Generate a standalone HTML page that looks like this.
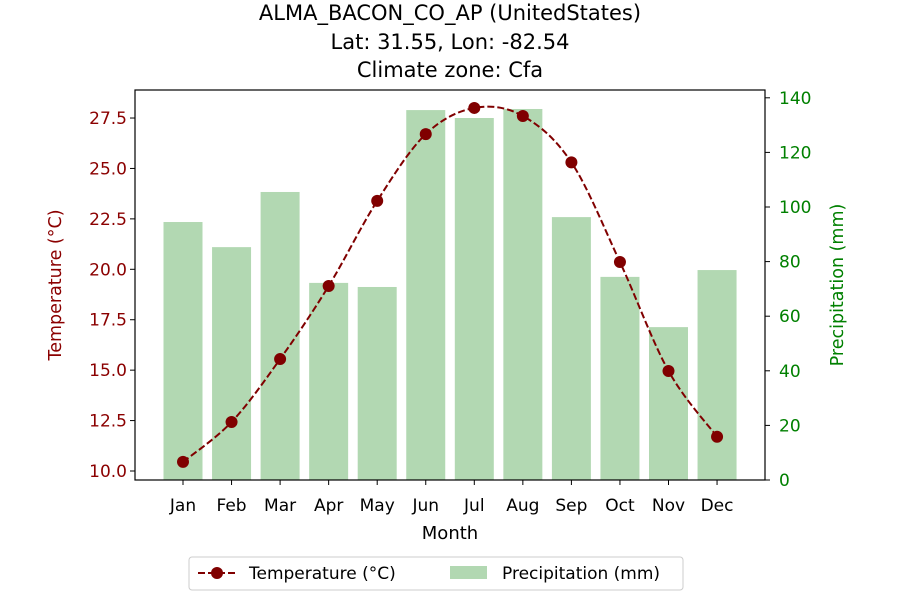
<!DOCTYPE html>
<html><head><meta charset="utf-8"><style>
body{margin:0;background:#fff;font-family:"Liberation Sans","DejaVu Sans",sans-serif;}
</style></head><body>
<svg width="900" height="600" xmlns="http://www.w3.org/2000/svg" font-family="DejaVu Sans, Liberation Sans, sans-serif">
<g text-anchor="middle" font-size="21" fill="#000">
<text x="450" y="20">ALMA_BACON_CO_AP (UnitedStates)</text>
<text x="450" y="49">Lat: 31.55, Lon: -82.54</text>
<text x="450" y="77">Climate zone: Cfa</text>
</g>
<g id="bars"></g>
<g id="line"></g>
<rect x="135" y="90" width="630" height="390" fill="none" stroke="#000" stroke-width="1.2"/>
<g id="axes"></g>
<text x="450" y="539" font-size="18" text-anchor="middle">Month</text>
<text transform="translate(61,285) rotate(-90)" font-size="17.5" fill="#8b0000" text-anchor="middle">Temperature (°C)</text>
<text transform="translate(843,285) rotate(-90)" font-size="17.5" fill="#008000" text-anchor="middle">Precipitation (mm)</text>
<g>
<rect x="189" y="557" width="494" height="33" rx="3" fill="#fff" stroke="#ccc"/>
<g>
<line x1="198" y1="573" x2="236" y2="573" stroke="#800000" stroke-width="2" stroke-dasharray="7,3"/>
<circle cx="217" cy="573" r="6" fill="#800000"/>
<text x="249" y="579" font-size="17">Temperature (°C)</text></g>
<g>
<rect x="450" y="566" width="37" height="13" fill="#b2d8b2"/>
<text x="502" y="579" font-size="17">Precipitation (mm)</text></g>
</g>
</svg>
<script>
const months=["Jan","Feb","Mar","Apr","May","Jun","Jul","Aug","Sep","Oct","Nov","Dec"];
const temps=[10.45,12.43,15.55,19.17,23.39,26.7,28.0,27.6,25.3,20.36,14.96,11.7];
const precip=[94.5,85.3,105.5,72.2,70.7,135.5,132.6,135.9,96.3,74.4,56,76.9];
const tTicks=[10.0,12.5,15.0,17.5,20.0,22.5,25.0,27.5];
const pTicks=[0,20,40,60,80,100,120,140];
const NS="http://www.w3.org/2000/svg";
const xS=i=>183+i*48.55;
const yT=t=>471-(t-10)*20.17;
const yP=p=>480-p*2.73;
const mk=(tag,a,parent)=>{const e=document.createElementNS(NS,tag);for(const k in a)e.setAttribute(k,a[k]);parent.appendChild(e);return e;};
const bars=document.getElementById('bars'),line=document.getElementById('line'),axes=document.getElementById('axes');
precip.forEach((p,i)=>{const r=mk('rect',{x:xS(i)-19.5,y:yP(p),width:39,height:480-yP(p),fill:'#b2d8b2'},bars);

});
const pts=temps.map((t,i)=>[xS(i),yT(t)]);
let d='M'+pts[0][0]+','+pts[0][1];
for(let i=0;i<pts.length-1;i++){const p0=pts[i-1]||pts[i],p1=pts[i],p2=pts[i+1],p3=pts[i+2]||p2;
d+=' C'+(p1[0]+(p2[0]-p0[0])/6)+','+(p1[1]+(p2[1]-p0[1])/6)+' '+(p2[0]-(p3[0]-p1[0])/6)+','+(p2[1]-(p3[1]-p1[1])/6)+' '+p2[0]+','+p2[1];}
mk('path',{d:d,fill:'none',stroke:'#800000','stroke-width':2,'stroke-dasharray':'7,3'},line);
temps.forEach((t,i)=>{const c=mk('circle',{cx:xS(i),cy:yT(t),r:6,fill:'#800000'},line);

});
months.forEach((m,i)=>{mk('line',{x1:xS(i),x2:xS(i),y1:480,y2:485,stroke:'#000'},axes);
const t=mk('text',{x:xS(i),y:511,'font-size':17,'text-anchor':'middle'},axes);t.textContent=m;

});
tTicks.forEach(v=>{mk('line',{x1:130,x2:135,y1:yT(v),y2:yT(v),stroke:'#000'},axes);
const t=mk('text',{x:127,y:yT(v)+6,'font-size':17,'text-anchor':'end',fill:'#8b0000'},axes);t.textContent=v.toFixed(1);

});
pTicks.forEach(v=>{mk('line',{x1:765,x2:770,y1:yP(v),y2:yP(v),stroke:'#000'},axes);
const t=mk('text',{x:779,y:yP(v)+6,'font-size':17,'text-anchor':'start',fill:'#008000'},axes);t.textContent=v;

});
</script>
</body></html>
